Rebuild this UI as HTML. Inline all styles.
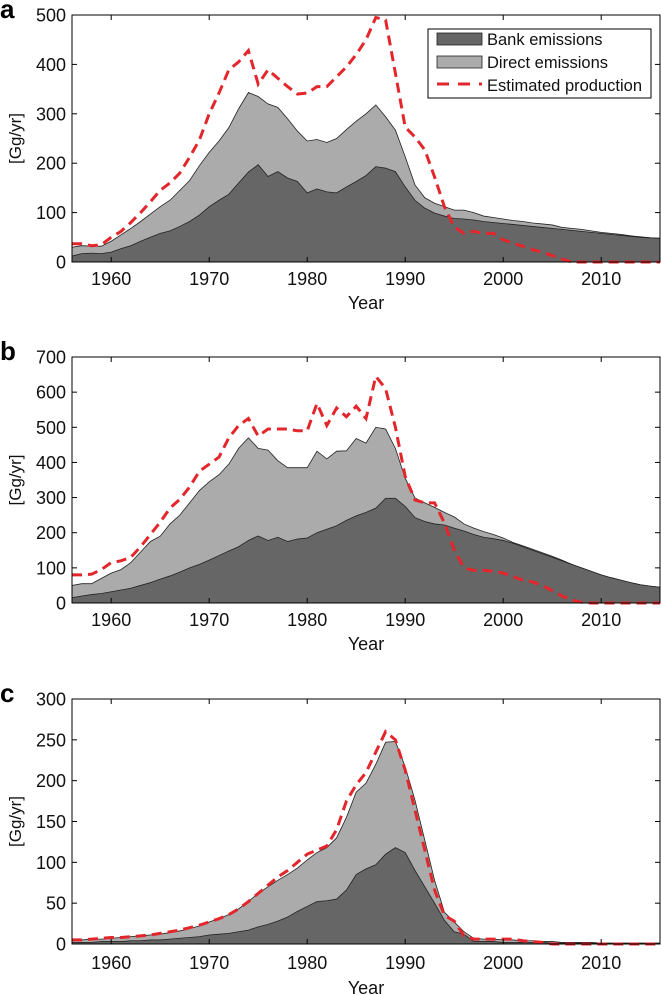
<!DOCTYPE html>
<html><head><meta charset="utf-8"><style>
html,body{margin:0;padding:0;background:#fff;}
svg{display:block;font-family:"Liberation Sans",Arial,sans-serif;}
</style></head><body>
<svg id="chart" width="661" height="995" viewBox="0 0 661 995" xmlns="http://www.w3.org/2000/svg"></svg>
<script>
const years = [];
for (let y = 1956; y <= 2016; y++) years.push(y);
const xTicks = [1960, 1970, 1980, 1990, 2000, 2010];

const bankA = [12,17,18,17,20,27,33,42,50,58, 63,72,82,95,112,125,137,160,182,197, 173,183,170,163,140,148,142,140,152,163, 175,193,190,183,152,125,109,99,93,88, 87,85,82,80,78,76,74,72,70,68, 66,64,62,60,58,56,54,52,50,49, 48];
const totalA = [30,33,32,32,42,55,68,82,97,112, 125,145,165,195,222,245,272,310,343,335, 320,313,290,265,245,248,242,250,268,285, 300,318,294,267,213,156,130,119,112,105, 105,100,93,90,87,84,82,79,77,75, 70,68,66,63,60,58,56,53,51,49, 48];
const prodA = [37,37,33,35,50,62,80,100,122,145, 160,180,212,247,300,342,389,405,428,360, 389,372,355,340,342,355,355,375,395,420, 450,495,490,382,273,253,227,172,112,71, 58,62,58,58,45,38,32,25,20,13, 6,0,0,0,0,0,0,0,0,0, 0];

const bankB = [15,20,24,27,32,37,42,50,58,68, 77,88,100,110,122,135,148,160,178,191, 178,187,175,182,185,200,210,220,235,248, 258,270,298,298,275,243,232,225,222,213, 205,195,187,183,178,170,160,150,140,130, 120,110,100,90,80,72,65,58,52,48, 45];
const totalB = [50,55,55,70,85,95,115,145,175,190, 225,250,285,320,345,365,395,440,470,440, 435,405,385,385,385,432,410,432,433,468, 455,500,495,440,355,299,285,272,258,245, 225,213,203,195,185,172,163,153,143,133, 122,110,100,90,80,72,65,58,52,48, 45];
const prodB = [80,80,82,95,115,120,130,160,195,230, 270,295,330,375,395,415,470,505,525,475, 495,495,495,490,490,568,505,555,530,560, 525,645,610,500,360,293,285,285,228,151, 100,93,93,90,85,75,65,60,50,35, 20,8,2,0,0,0,0,0,0,0, 0];

const bankC = [2,2,2,3,3,3,4,4,5,5, 6,7,8,9,11,12,13,15,17,21, 24,28,33,40,46,52,53,55,66,85, 92,97,110,118,112,90,70,50,29,15, 12,3,3,3,2,2,2,2,2,1, 1,1,1,1,1,1,1,1,1,1, 1];
const totalC = [5,5,6,6,7,8,9,10,11,12, 14,16,19,22,27,31,36,43,52,62, 70,78,85,93,103,112,118,130,155,186, 197,220,247,248,217,176,127,78,39,27, 15,7,6,6,5,5,4,4,3,3, 2,2,2,2,1,1,1,1,1,1, 1];
const prodC = [5,5,6,7,8,8,9,10,11,13, 15,17,20,23,27,31,36,43,52,62, 72,82,90,100,110,115,120,140,175,195, 210,235,260,250,213,164,115,66,35,28, 10,6,6,6,6,6,4,3,2,0, 0,0,0,0,0,0,0,0,0,0, 0];

const yTicksA = [0,100,200,300,400,500];
const yTicksB = [0,100,200,300,400,500,600,700];
const yTicksC = [0,50,100,150,200,250,300];

const NS = "http://www.w3.org/2000/svg";
const svg = document.getElementById("chart");
function mk(tag, attrs, parent) {
  const e = document.createElementNS(NS, tag);
  for (const k in attrs) e.setAttribute(k, attrs[k]);
  (parent || svg).appendChild(e);
  return e;
}
const X0 = 72, X1 = 660;
const panels = [
  {id:"a", top:15, bot:262, ticks:yTicksA, bank:bankA, total:totalA, prod:prodA, xlab:285, ylab:309, legend:true},
  {id:"b", top:357, bot:603, ticks:yTicksB, bank:bankB, total:totalB, prod:prodB, xlab:626, ylab:650, legend:false},
  {id:"c", top:699, bot:944, ticks:yTicksC, bank:bankC, total:totalC, prod:prodC, xlab:969, ylab:994, legend:false}
];
panels.forEach(p => {
  const g = mk("g", {});
  
  
  const ymax = p.ticks[p.ticks.length - 1];
  const sx = yr => X0 + (yr - 1956) / 60 * (X1 - X0);
  const sy = v => p.bot - v / ymax * (p.bot - p.top);
  const area = arr => {
    let d = "M" + sx(years[0]) + "," + sy(0);
    arr.forEach((v, i) => { d += " L" + sx(years[i]).toFixed(2) + "," + sy(v).toFixed(2); });
    d += " L" + sx(years[years.length - 1]) + "," + sy(0) + " Z";
    return d;
  };
  const tot = mk("path", {d: area(p.total), fill: "#ababab", stroke: "#222", "stroke-width": 0.8}, g);
  
  
  const bk = mk("path", {d: area(p.bank), fill: "#666666", stroke: "#222", "stroke-width": 0.8}, g);
  
  
  let pd = "";
  p.prod.forEach((v, i) => { pd += (i ? " L" : "M") + sx(years[i]).toFixed(2) + "," + sy(v).toFixed(2); });
  const pl = mk("path", {d: pd, fill: "none", stroke: "#e3262c", "stroke-width": 3, "stroke-dasharray": "10,6"}, g);
  
  
  const box = mk("rect", {x: X0, y: p.top, width: X1 - X0, height: p.bot - p.top, fill: "none", stroke: "#000", "stroke-width": 1}, g);
  
  
  xTicks.forEach(t => {
    const x = sx(t);
    mk("line", {x1: x, x2: x, y1: p.bot, y2: p.bot - 5, stroke: "#000"}, g);
    mk("line", {x1: x, x2: x, y1: p.top, y2: p.top + 5, stroke: "#000"}, g);
    const tl = mk("text", {x: x, y: p.xlab, "text-anchor": "middle", "font-size": 18, fill: "#111"}, g);
    tl.textContent = t;
    
    
  });
  p.ticks.forEach(t => {
    const y = sy(t);
    mk("line", {x1: X0, x2: X0 + 5, y1: y, y2: y, stroke: "#000"}, g);
    mk("line", {x1: X1, x2: X1 - 5, y1: y, y2: y, stroke: "#000"}, g);
    const tl = mk("text", {x: 66, y: y + 6.5, "text-anchor": "end", "font-size": 18, fill: "#111"}, g);
    tl.textContent = t;
    
    
  });
  const xt = mk("text", {x: 366, y: p.ylab, "text-anchor": "middle", "font-size": 18, fill: "#111"}, g);
  xt.textContent = "Year";
  
  
  const cy = (p.top + p.bot) / 2;
  const yt = mk("text", {x: 0, y: 0, "text-anchor": "middle", "font-size": 17, fill: "#111", transform: "translate(21," + cy + ") rotate(-90)"}, g);
  yt.textContent = "[Gg/yr]";
  
  
  const lt = mk("text", {x: 0, y: p.top + 3, "font-size": 26, "font-weight": "bold", fill: "#000"}, g);
  lt.textContent = p.id;
  
  
  if (p.legend) {
    const lg = mk("g", {}, g);
    
    
    mk("rect", {x: 428, y: 29, width: 223, height: 69, fill: "#fff", stroke: "#000", "stroke-width": 1}, lg);
    const e1 = mk("rect", {x: 437, y: 33, width: 45, height: 12, fill: "#666666", stroke: "#222", "stroke-width": 0.8}, lg);
    
    
    const e2 = mk("rect", {x: 437, y: 56, width: 45, height: 12, fill: "#ababab", stroke: "#222", "stroke-width": 0.8}, lg);
    
    
    const e3 = mk("line", {x1: 437, x2: 482, y1: 84, y2: 84, stroke: "#e3262c", "stroke-width": 3, "stroke-dasharray": "12,9"}, lg);
    
    
    const labels = ["Bank emissions", "Direct emissions", "Estimated production"];
    labels.forEach((s, i) => {
      const t = mk("text", {x: 487, y: 45 + i * 23, "font-size": 16.5, fill: "#111"}, lg);
      t.textContent = s;
      
      
    });
  }
});
</script>
</body></html>
